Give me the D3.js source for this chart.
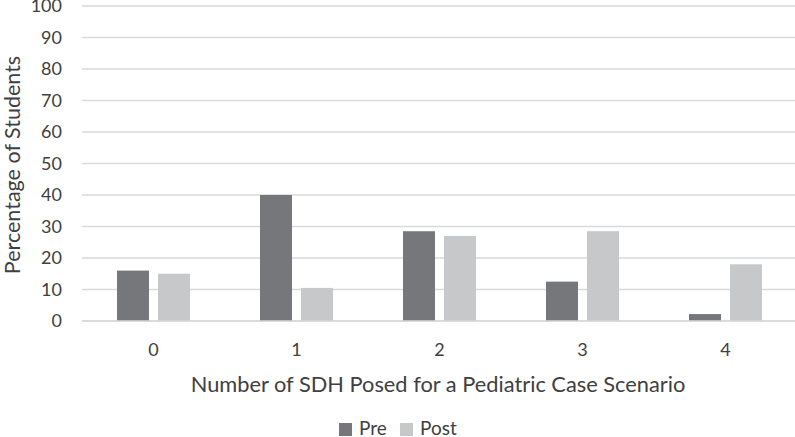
<!DOCTYPE html>
<html><head><meta charset="utf-8">
<script src="https://cdn.jsdelivr.net/npm/d3@7"></script>
<style>body{margin:0;background:#fff}svg{display:block}text{font-family:Lato,"Open Sans",sans-serif;fill:#404040}</style>
</head><body><svg id="c" width="795" height="437"></svg>
<script>
const categories = ["0","1","2","3","4"];
const seriesNames = ["Pre","Post"];
const preValues = [16, 40, 28.5, 12.5, 2.2];
const postValues = [15, 10.5, 27, 28.5, 18];
const yTicks = [0,10,20,30,40,50,60,70,80,90,100];
const colors = {Pre:"#76777b", Post:"#c7c8ca"};

const svg = d3.select("#c");
const m = {l:82, r:797, t:6, b:321};
const x = d3.scaleBand().domain(categories).range([m.l, m.r]);
const xi = d3.scaleBand().domain(seriesNames).range([35, 108]).paddingInner(0.22);
const y = d3.scaleLinear().domain([0,100]).range([m.b, m.t]);

// gridlines
svg.append("g").selectAll("line").data(yTicks).join("line")
  .attr("x1", m.l).attr("x2", m.r)
  .attr("y1", d=>y(d)).attr("y2", d=>y(d))
  .attr("stroke","#d9d9d9").attr("stroke-width",1.5);

// y axis
const ya = svg.append("g").attr("transform",`translate(${m.l},0)`)
  .call(d3.axisLeft(y).tickValues(yTicks).tickSize(0).tickPadding(20));
ya.select(".domain").remove();
ya.selectAll("text").attr("font-size",18).attr("font-family","Lato,'Open Sans',sans-serif").attr("fill","#404040");

// x axis
const xa = svg.append("g").attr("transform",`translate(0,${m.b})`)
  .call(d3.axisBottom(x).tickSize(0).tickPadding(22));
xa.select(".domain").remove();
xa.selectAll("text").attr("font-size",18).attr("font-family","Lato,'Open Sans',sans-serif").attr("fill","#404040");

// bars
const rows = categories.map((c,i)=>({c, vals:[{s:"Pre",v:preValues[i]},{s:"Post",v:postValues[i]}]}));
svg.append("g").selectAll("g").data(rows).join("g")
  .attr("transform", d=>`translate(${x(d.c)},0)`)
  .selectAll("rect").data(d=>d.vals).join("rect")
  .attr("x", d=>xi(d.s)).attr("width", xi.bandwidth())
  .attr("y", d=>y(d.v)).attr("height", d=>y(0)-y(d.v))
  .attr("fill", d=>colors[d.s]);

// baseline redraw
svg.append("line").attr("x1",m.l).attr("x2",m.r).attr("y1",y(0)).attr("y2",y(0))
  .attr("stroke","#d9d9d9").attr("stroke-width",1.5);

// axis titles
svg.append("text").attr("x",438).attr("y",392)
  .attr("text-anchor","middle").attr("font-size",21.8)
  .text("Number of SDH Posed for a Pediatric Case Scenario");
svg.append("text").attr("transform","translate(19.5,165) rotate(-90)")
  .attr("text-anchor","middle").attr("font-size",21.5)
  .text("Percentage of Students");

// legend
const leg = svg.append("g");
const lx = [339, 400];
seriesNames.forEach((s,i)=>{
  leg.append("rect").attr("x",lx[i]).attr("y",423).attr("width",13).attr("height",13).attr("fill",colors[s]);
  leg.append("text").attr("x",lx[i]+20).attr("y",435).attr("font-size",19).text(s);
});
</script></body></html>
